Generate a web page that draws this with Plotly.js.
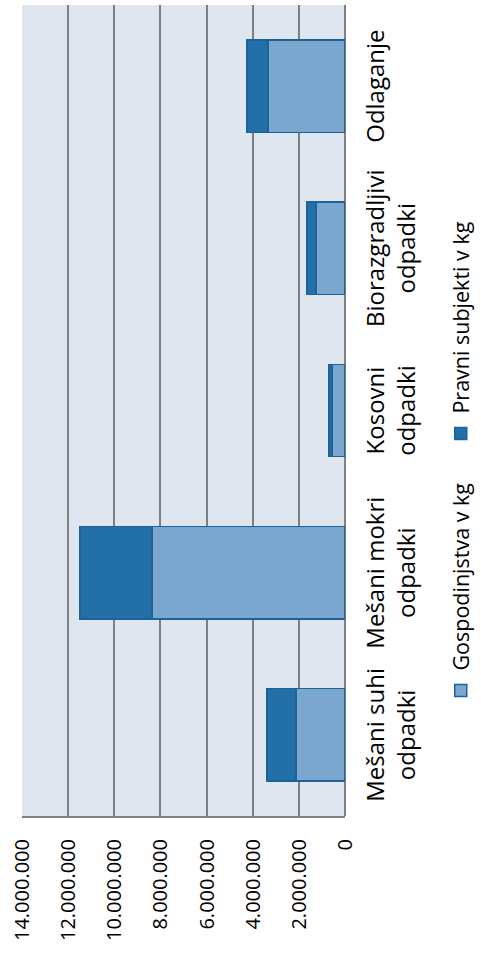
<!DOCTYPE html>
<html>
<head>
<meta charset="utf-8">
<script src="https://cdn.plot.ly/plotly-3.0.1.min.js"></script>
<style>
  html, body { margin: 0; padding: 0; width: 481px; height: 966px; overflow: hidden; background: #fff; }
  #chart { position: absolute; left: 0; top: 0; width: 966px; height: 481px;
           transform-origin: 0 0; transform: translate(0px, 966px) rotate(-90deg); }
</style>
</head>
<body>
<div id="chart"></div>
<script>
const categories = [
  "Mešani suhi<br>odpadki",
  "Mešani mokri<br>odpadki",
  "Kosovni<br>odpadki",
  "Biorazgradljivi<br>odpadki",
  "Odlaganje"
];
const gospodinjstva = [2120000, 8370000, 570000, 1260000, 3340000];
const pravniSubjekti = [1260000, 3120000, 120000, 390000, 910000];
const seriesNames = ["Gospodinjstva v kg", "Pravni subjekti v kg"];
const valueTicks = [0, 2000000, 4000000, 6000000, 8000000, 10000000, 12000000, 14000000];

const fam = "Open Sans, sans-serif";

const traces = [
  { type: "bar", name: seriesNames[0], x: categories, y: gospodinjstva,
    marker: { color: "#7ba7cf", line: { color: "#1c6399", width: 1.5 } } },
  { type: "bar", name: seriesNames[1], x: categories, y: pravniSubjekti,
    marker: { color: "#2270a7", line: { color: "#1c6399", width: 1.5 } } }
];

const layout = {
  width: 966, height: 481,
  margin: { l: 150, r: 5, t: 22, b: 136, autoexpand: false },
  barmode: "stack",
  bargap: 0.43,
  separators: ",.",
  paper_bgcolor: "#ffffff",
  plot_bgcolor: "#e0e6f0",
  font: { family: fam, size: 22, color: "#000" },
  showlegend: true,
  legend: { orientation: "h", x: 0.13, xanchor: "left", y: -0.295, yanchor: "top",
            font: { family: fam, size: 21.5, color: "#000" }, traceorder: "normal",
            entrywidth: 212, entrywidthmode: "pixels" },
  xaxis: { type: "category", tickfont: { family: fam, size: 24, color: "#000" },
           showline: false, showgrid: false, ticks: "", automargin: false,
           ticklabelstandoff: 14 },
  yaxis: { range: [0, 14000000], tickvals: valueTicks, tickformat: ",d",
           tickfont: { family: fam, size: 20, color: "#000" },
           showgrid: true, gridcolor: "#808080", gridwidth: 2,
           showline: true, linecolor: "#808080", linewidth: 2,
           zeroline: true, zerolinecolor: "#808080", zerolinewidth: 2,
           ticks: "", automargin: false, ticklabelstandoff: 17 }
};

Plotly.newPlot("chart", traces, layout, { displayModeBar: false, staticPlot: true });
</script>
</body>
</html>
